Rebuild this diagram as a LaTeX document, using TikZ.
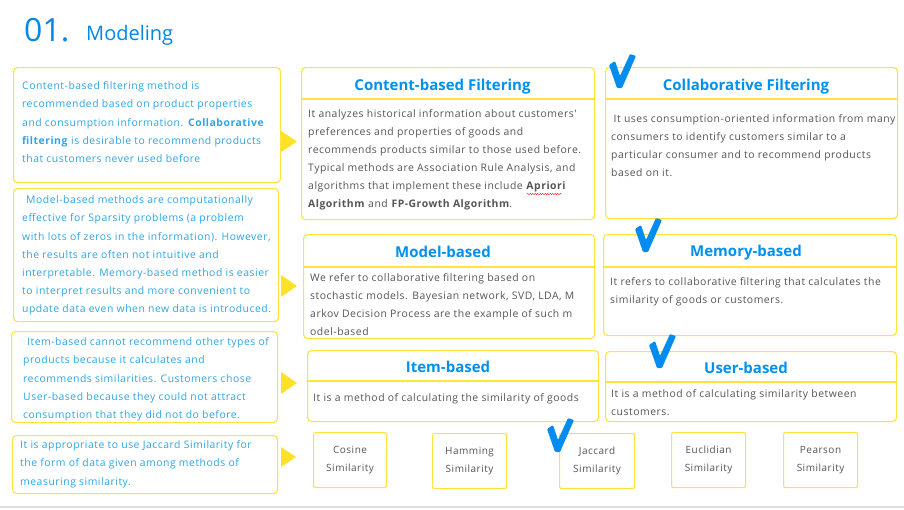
\documentclass[tikz,border=0pt]{standalone}
\usepackage{fontspec}
\setmainfont{Open Sans}
\newfontfamily\bodyf{Open Sans}[LetterSpace=5]
\usetikzlibrary{decorations.pathmorphing}
\definecolor{ttlblue}{RGB}{0,136,232}
\definecolor{hdblue}{RGB}{0,145,240}
\definecolor{ltblue}{RGB}{45,165,230}
\definecolor{bodygray}{RGB}{85,85,85}
\definecolor{ybord}{RGB}{255,226,60}
\definecolor{ytri}{RGB}{255,226,40}
\definecolor{chk}{RGB}{0,140,240}
\begin{document}
\begin{tikzpicture}[x=1pt,y=-1pt,
  box/.style={draw=ybord, line width=1.1pt, rounded corners=4pt, anchor=north west, inner sep=0pt, fill=white},
  simbox/.style={draw=ybord, line width=1.1pt, rounded corners=2pt, anchor=north west, inner sep=0pt,
    minimum height=55pt, align=center, text=bodygray, font=\bodyf\fontsize{10}{18}\selectfont},
  divider/.style={draw=ybord, line width=1.1pt},
  hdr/.style={anchor=base, text=hdblue, font=\fontsize{15}{17}\selectfont\bfseries, inner sep=0pt},
  lefttext/.style={anchor=north west, inner sep=0pt, align=left, text=ltblue, font=\bodyf\fontsize{10.4}{18.2}\selectfont},
  bodytext/.style={anchor=north west, inner sep=0pt, align=left, text=bodygray, font=\bodyf\fontsize{10.4}{18}\selectfont},
  tri/.style={fill=ytri},
  check/.pic={\fill[chk, rounded corners=1pt] (0,11) -- (6,7) -- (11,22) -- (21,0) -- (27,2) -- (13,34) -- (8,34) -- cycle;}
]
\useasboundingbox (0,0) rectangle (904,509);
\fill[white] (0,0) rectangle (904,509);
\draw[black!13, line width=1.5pt] (0,507) -- (904,507);

% title
\node[anchor=base west, text=ttlblue, inner sep=0pt, font=\fontsize{32}{32}\selectfont] (num) at (24,41) {01.};
\node[anchor=base west, text=ttlblue, inner sep=0pt, font=\fontsize{20}{20}\selectfont] (ttl) at (86,40) {Modeling};

% left boxes
\node[box, minimum width=267pt, minimum height=115pt] (lb1) at (13,67) {};
\node[box, minimum width=265pt, minimum height=133pt] (lb2) at (13,188) {};
\node[box, minimum width=266pt, minimum height=91pt] (lb3) at (11,331) {};
\node[box, minimum width=265pt, minimum height=58pt] (lb4) at (12,435) {};

\node[lefttext] (lt1) at (22,81.5) {Content-based filtering method is\\
recommended based on product properties\\
and consumption information. \textbf{Collaborative}\\
\textbf{filtering} is desirable to recommend products\\
that customers never used before};
\node[lefttext] (lt2) at (22,195.5) {\hspace*{4pt}Model-based methods are computationally\\
effective for Sparsity problems (a problem\\
with lots of zeros in the information). However,\\
the results are often not intuitive and\\
interpretable. Memory-based method is easier\\
to interpret results and more convenient to\\
update data even when new data is introduced.};
\node[lefttext] (lt3) at (23,337.5) {\hspace*{4pt}Item-based cannot recommend other types of\\
products because it calculates and\\
recommends similarities. Customers chose\\
User-based because they could not attract\\
consumption that they did not do before.};
\node[lefttext] (lt4) at (20,440.5) {It is appropriate to use Jaccard Similarity for\\
the form of data given among methods of\\
measuring similarity.};

% triangles
\fill[tri] (281,131) -- (297,141.5) -- (281,152) -- cycle;
\fill[tri] (281,275) -- (297,286) -- (281,297) -- cycle;
\fill[tri] (281,372) -- (297,383) -- (281,394) -- cycle;
\fill[tri] (281,447) -- (296,457) -- (281,467) -- cycle;

% right boxes
\node[box, minimum width=293pt, minimum height=152pt] (cbf) at (301,67) {};
\node[box, minimum width=292pt, minimum height=151pt] (cof) at (605,67) {};
\node[box, minimum width=291pt, minimum height=104pt] (mob) at (303,234) {};
\node[box, minimum width=293pt, minimum height=101pt] (meb) at (603,234) {};
\node[box, minimum width=291pt, minimum height=71pt] (itb) at (307,350) {};
\node[box, minimum width=291pt, minimum height=70pt] (usb) at (605,351) {};

\draw[divider] (cbf.west |- 0,99) -- (cbf.east |- 0,99);
\draw[divider] (cof.west |- 0,99) -- (cof.east |- 0,99);
\draw[divider] (mob.west |- 0,267) -- (mob.east |- 0,267);
\draw[divider] (meb.west |- 0,267) -- (meb.east |- 0,267);
\draw[divider] (itb.west |- 0,381) -- (itb.east |- 0,381);
\draw[divider] (usb.west |- 0,382) -- (usb.east |- 0,382);

\node[hdr] (cbfh) at (442.5,90) {Content-based Filtering};
\node[hdr] (cofh) at (746,90) {Collaborative Filtering};
\node[hdr] (mobh) at (443,257) {Model-based};
\node[hdr] (mebh) at (746,256) {Memory-based};
\node[hdr] (itbh) at (448,372) {Item-based};
\node[hdr] (usbh) at (746,373) {User-based};

\node[bodytext] (cbft) at (308,109.5) {It analyzes historical information about customers'\\
preferences and properties of goods and\\
recommends products similar to those used before.\\
Typical methods are Association Rule Analysis, and\\
algorithms that implement these include \textbf{Apriori}\\
\textbf{Algorithm} and \textbf{FP-Growth Algorithm}.};
\draw[red, line width=0.4pt, decorate, decoration={snake, amplitude=0.6pt, segment length=2.5pt}] (527,194) -- (562,194);
\node[bodytext] (coft) at (611,114.5) {\hspace*{2.5pt}It uses consumption-oriented information from many\\
consumers to identify customers similar to a\\
particular consumer and to recommend products\\
based on it.};
\node[bodytext] (mobt) at (310,273.5) {We refer to collaborative filtering based on\\
stochastic models. Bayesian network, SVD, LDA, M\\
arkov Decision Process are the example of such m\\
odel-based};
\node[bodytext] (mebt) at (610,277.5) {It refers to collaborative filtering that calculates the\\
similarity of goods or customers.};
\node[bodytext] (itbt) at (313,393.5) {It is a method of calculating the similarity of goods};
\node[bodytext] (usbt) at (611,389.5) {It is a method of calculating similarity between\\
customers.};

% similarity boxes
\node[simbox, minimum width=73pt] (cos) at (313,432) {Cosine\\Similarity};
\node[simbox, minimum width=74pt] (ham) at (432,433) {Hamming\\Similarity};
\node[simbox, minimum width=75pt] (jac) at (559,433) {Jaccard\\Similarity};
\node[simbox, minimum width=74pt] (euc) at (671,432) {Euclidian\\Similarity};
\node[simbox, minimum width=74pt] (pea) at (783,432) {Pearson\\Similarity};

% check marks
\pic at (609,54) {check};
\pic at (635,218) {check};
\pic at (649,334) {check};
\pic at (547,418) {check};
\end{tikzpicture}
\end{document}
